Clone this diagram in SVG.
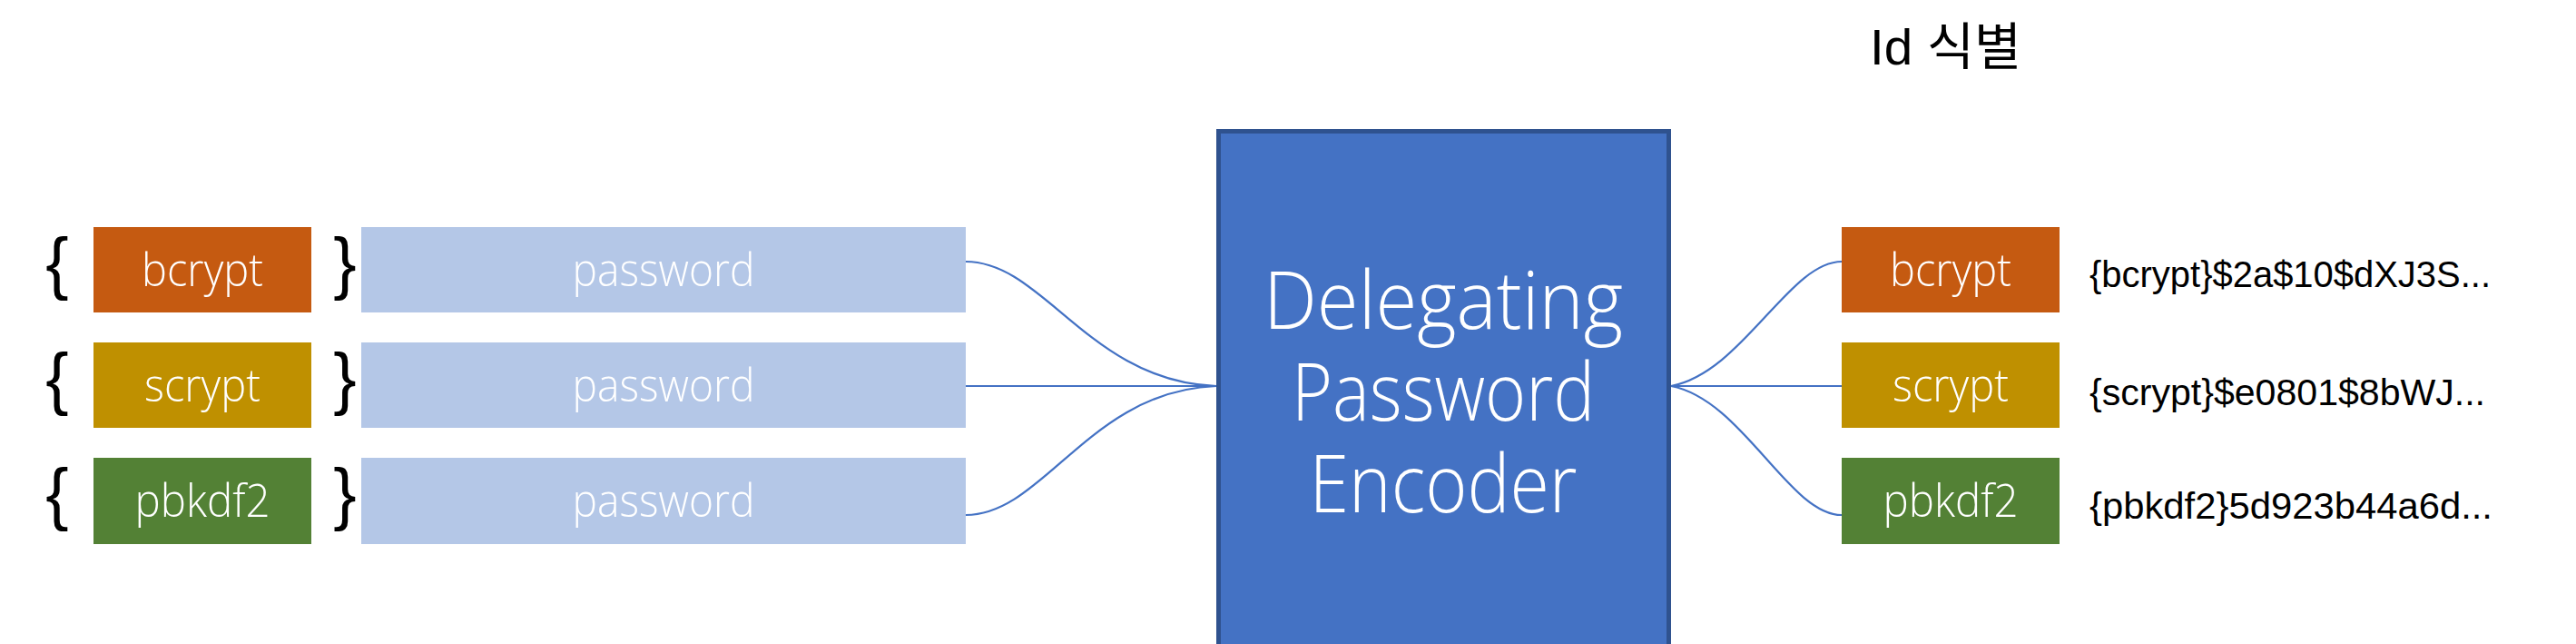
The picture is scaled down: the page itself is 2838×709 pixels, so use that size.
<svg xmlns="http://www.w3.org/2000/svg" width="2838" height="709" viewBox="0 0 2838 709">
<style>
.lbl{font-family:"Open Sans","Noto Sans",sans-serif;font-weight:300;font-size:50px;fill:#fff;text-anchor:middle}
.brace{font-family:"Liberation Sans",sans-serif;font-size:76px;fill:#000;text-anchor:middle}
.hash{font-family:"Liberation Sans",sans-serif;font-size:41px;fill:#000}
.big{font-family:"Open Sans","Noto Sans",sans-serif;font-weight:300;font-size:88px;fill:#fff;text-anchor:middle}
.conn{fill:none;stroke:#4472C4;stroke-width:2.2}
.pw{fill:#B4C7E7}
</style>
<rect width="2838" height="709" fill="#fff"/>
<g id="connectors">
<path class="conn" d="M1064,288 C1150,288 1200,420 1340,425"/>
<path class="conn" d="M1064,425 L1340,425"/>
<path class="conn" d="M1064,567 C1150,567 1200,430 1340,425"/>
<path class="conn" d="M1841,425 C1920,410 1971,288 2029,288"/>
<path class="conn" d="M1841,425 L2029,425"/>
<path class="conn" d="M1841,425 C1920,440 1971,567 2029,567"/>
</g>
<g id="in-bcrypt">
<text class="brace" x="63" y="315">{</text>
<rect x="103" y="250" width="240" height="94" fill="#C55A11"/>
<text class="lbl" x="223" y="315" textLength="134" lengthAdjust="spacingAndGlyphs">bcrypt</text>
<text class="brace" x="380" y="315">}</text>
<rect class="pw" x="398" y="250" width="666" height="94"/>
<text class="lbl" x="731" y="315" textLength="201" lengthAdjust="spacingAndGlyphs">password</text>
</g>
<g id="in-scrypt">
<text class="brace" x="63" y="442">{</text>
<rect x="103" y="377" width="240" height="94" fill="#BF9000"/>
<text class="lbl" x="223" y="442" textLength="128" lengthAdjust="spacingAndGlyphs">scrypt</text>
<text class="brace" x="380" y="442">}</text>
<rect class="pw" x="398" y="377" width="666" height="94"/>
<text class="lbl" x="731" y="442" textLength="201" lengthAdjust="spacingAndGlyphs">password</text>
</g>
<g id="in-pbkdf2">
<text class="brace" x="63" y="569">{</text>
<rect x="103" y="504" width="240" height="95" fill="#538135"/>
<text class="lbl" x="223" y="569" textLength="149" lengthAdjust="spacingAndGlyphs">pbkdf2</text>
<text class="brace" x="380" y="569">}</text>
<rect class="pw" x="398" y="504" width="666" height="95"/>
<text class="lbl" x="731" y="569" textLength="201" lengthAdjust="spacingAndGlyphs">password</text>
</g>
<g id="encoder">
<rect x="1342.5" y="144.5" width="496" height="600" fill="#4472C4" stroke="#2F528F" stroke-width="5"/>
<text class="big" x="1590" y="362" textLength="396" lengthAdjust="spacingAndGlyphs">Delegating</text>
<text class="big" x="1590" y="462.5" textLength="334" lengthAdjust="spacingAndGlyphs">Password</text>
<text class="big" x="1590" y="564" textLength="295" lengthAdjust="spacingAndGlyphs">Encoder</text>
</g>
<g id="title">
<text x="2060" y="71" font-family="Liberation Sans, 'Noto Sans CJK KR', sans-serif" font-size="56" fill="#000" textLength="167" lengthAdjust="spacingAndGlyphs">Id 식별</text>
</g>
<g id="out-bcrypt">
<rect x="2029" y="250" width="240" height="94" fill="#C55A11"/>
<text class="lbl" x="2149" y="315" textLength="134" lengthAdjust="spacingAndGlyphs">bcrypt</text>
<text class="hash" x="2302" y="316" textLength="442" lengthAdjust="spacingAndGlyphs">{bcrypt}$2a$10$dXJ3S...</text>
</g>
<g id="out-scrypt">
<rect x="2029" y="377" width="240" height="94" fill="#BF9000"/>
<text class="lbl" x="2149" y="442" textLength="128" lengthAdjust="spacingAndGlyphs">scrypt</text>
<text class="hash" x="2302" y="446" textLength="436" lengthAdjust="spacingAndGlyphs">{scrypt}$e0801$8bWJ...</text>
</g>
<g id="out-pbkdf2">
<rect x="2029" y="504" width="240" height="95" fill="#538135"/>
<text class="lbl" x="2149" y="569" textLength="149" lengthAdjust="spacingAndGlyphs">pbkdf2</text>
<text class="hash" x="2302" y="571" textLength="444" lengthAdjust="spacingAndGlyphs">{pbkdf2}5d923b44a6d...</text>
</g>
</svg>
